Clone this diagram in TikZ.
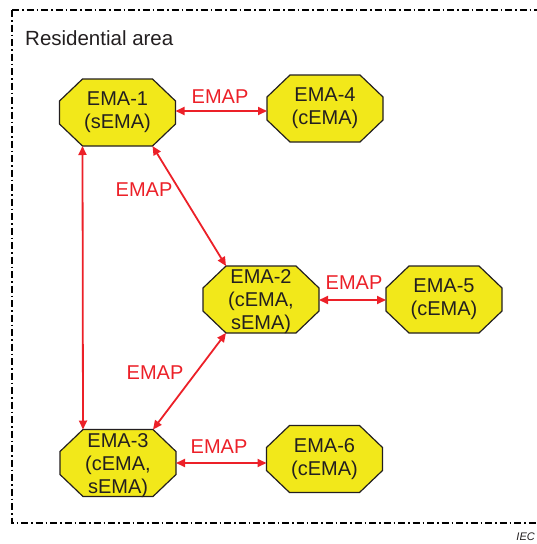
\documentclass[tikz,border=0pt]{standalone}
\usepackage{fontspec}
\setmainfont{Liberation Sans}
\usetikzlibrary{arrows.meta,backgrounds}
\definecolor{emayellow}{RGB}{242,232,26}
\definecolor{emared}{RGB}{236,32,40}
\definecolor{ematext}{RGB}{35,31,32}
\tikzset{
  ema/.style={shape=rectangle, inner sep=0pt, outer sep=0pt, minimum width=116pt, minimum height=67pt, align=center, font=\fontsize{20}{23}\selectfont, text=ematext},
  octa/.style={draw=ematext, line width=1.2pt, fill=emayellow, line join=miter},
  link/.style={draw=emared, line width=1.8pt, {Triangle[length=9pt,width=8pt]}-{Triangle[length=9pt,width=8pt]}},
  lbl/.style={text=emared, font=\fontsize{20}{24}\selectfont, inner sep=0pt},
  areaborder/.style={draw=black, line width=1.1pt, dash pattern=on 7pt off 3pt on 1.5pt off 3pt}
}
\begin{document}
\begin{tikzpicture}[x=1pt,y=-1pt]
\useasboundingbox (0,0) rectangle (536,544);
\draw[areaborder] (12,10) -- (560,10) (12,10) -- (12,523) -- (560,523);
\node[anchor=west, inner sep=0pt, font=\fontsize{20.5}{24}\selectfont, text=ematext] (title) at (25,38) {Residential area};

\node[ema] (e1) at (117.5,112.5) {EMA-1\\(sEMA)};
\node[ema] (e4) at (325,108.5) {EMA-4\\(cEMA)};
\node[ema] (e2) at (261,299.5) {\rule{0pt}{19pt}EMA-2\\(cEMA,\\sEMA)};
\node[ema] (e5) at (444,299.5) {EMA-5\\(cEMA)};
\node[ema] (e3) at (118,463) {\rule{0pt}{19pt}EMA-3\\(cEMA,\\sEMA)};
\node[ema] (e6) at (324.5,459) {EMA-6\\(cEMA)};

\begin{scope}[on background layer]
\foreach \n in {e1,e2,e3,e4,e5,e6}{
  \path[octa] ([xshift=-35pt,yshift=33.5pt]\n.center) -- ([xshift=35pt,yshift=33.5pt]\n.center) -- ([xshift=58pt,yshift=11.5pt]\n.center) -- ([xshift=58pt,yshift=-11.5pt]\n.center) -- ([xshift=35pt,yshift=-33.5pt]\n.center) -- ([xshift=-35pt,yshift=-33.5pt]\n.center) -- ([xshift=-58pt,yshift=-11.5pt]\n.center) -- ([xshift=-58pt,yshift=11.5pt]\n.center) -- cycle;
}
\end{scope}

\coordinate (a1) at ([xshift=58pt]e1.center |- 0,111);
\draw[link] (a1) -- ([xshift=-58pt]e4.center |- a1);
\draw[link] ([xshift=-35pt,yshift=-33.5pt]e1.center) -- ([xshift=-35pt,yshift=33.5pt]e3.center);
\draw[link] ([xshift=35pt,yshift=-33.5pt]e1.center) -- ([xshift=-35pt,yshift=33.5pt]e2.center);
\draw[link] ([xshift=-35pt,yshift=-33.5pt]e2.center) -- ([xshift=35pt,yshift=33.5pt]e3.center);
\coordinate (a2) at ([xshift=58pt]e2.center |- 0,300);
\draw[link] (a2) -- ([xshift=-58pt]e5.center |- a2);
\coordinate (a3) at ([xshift=58pt]e3.center |- 0,463);
\draw[link] (a3) -- ([xshift=-58pt]e6.center |- a3);

\node[lbl] (l1) at (220,97) {EMAP};
\node[lbl] (l2) at (144,190) {EMAP};
\node[lbl] (l3) at (354,283) {EMAP};
\node[lbl] (l4) at (155,373) {EMAP};
\node[lbl] (l5) at (219,447) {EMAP};

\node[anchor=east, inner sep=0pt, font=\itshape\fontsize{11}{13}\selectfont, text=ematext] (iec) at (535,537) {IEC};
\end{tikzpicture}
\end{document}
